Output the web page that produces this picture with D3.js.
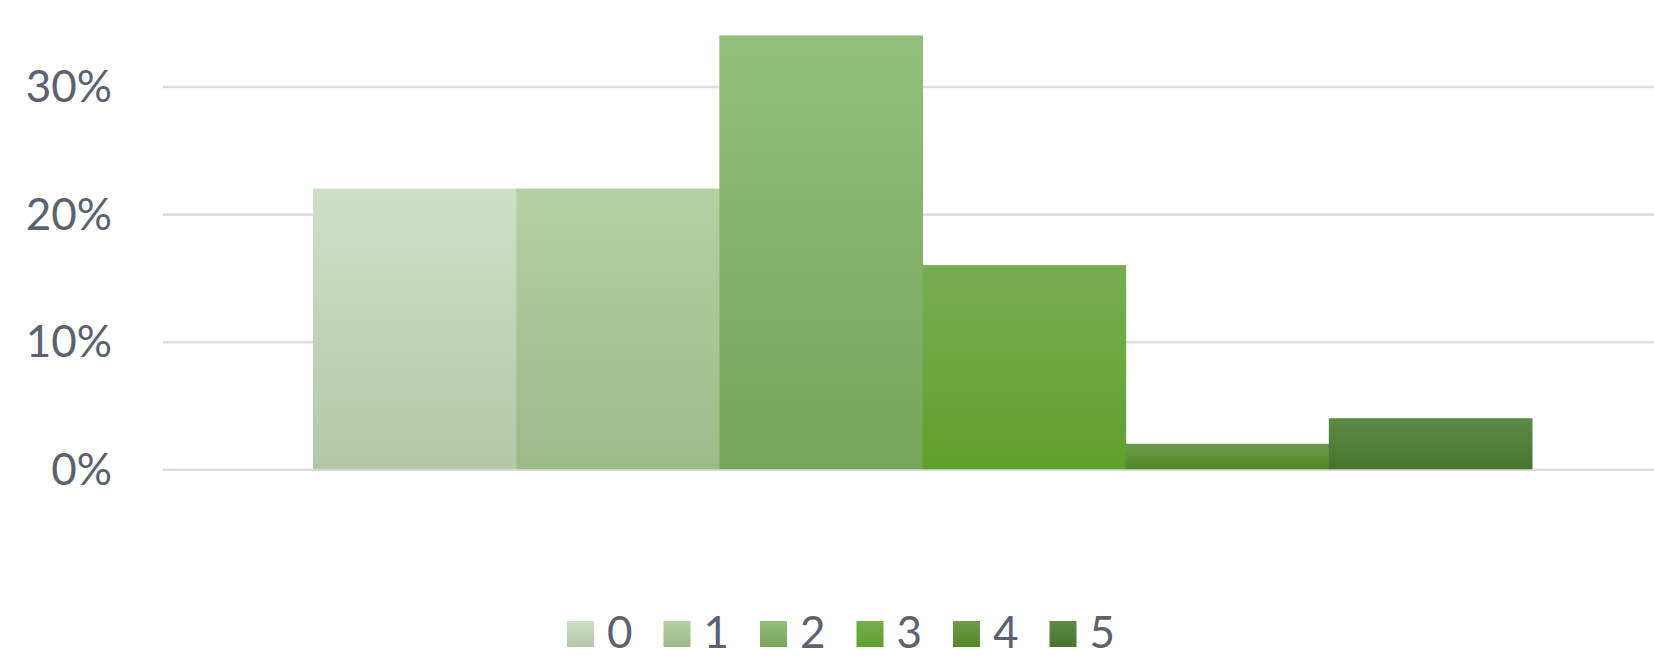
<!DOCTYPE html>
<html>
<head>
<meta charset="utf-8">
<script src="https://cdn.jsdelivr.net/npm/d3@7/dist/d3.min.js"></script>
<style>
  html, body { margin: 0; padding: 0; background: #ffffff; }
  svg { display: block; }
  text { font-family: Lato, "Open Sans", sans-serif; fill: #5a6272; }
</style>
</head>
<body>
<svg id="chart" width="1654" height="658"></svg>
<script>
// ---- data ----
const categories = ["all"];
const seriesNames = ["0", "1", "2", "3", "4", "5"];
const seriesValues = [0.22, 0.22, 0.34, 0.16, 0.02, 0.04];
const yTicks = [0, 0.1, 0.2, 0.3];
const colorsTop = ["#cedfc7", "#b4d0a5", "#93bf7b", "#77ad50", "#6e9a4e", "#5e8a46"];
const colorsBottom = ["#b2c7a8", "#9cbb87", "#76a559", "#5ea02c", "#4f8a24", "#48742e"];

const W = 1654, H = 658;
const svg = d3.select("#chart");
const margin = { left: 163, right: -28, top: 22.7, bottom: 188.7 };
const plotW = W - margin.left - margin.right;
const plotH = H - margin.top - margin.bottom;

const defs = svg.append("defs");
seriesNames.forEach((s, i) => {
  const g = defs.append("linearGradient").attr("id", "grad" + i)
    .attr("x1", 0).attr("y1", 0).attr("x2", 0).attr("y2", 1);
  g.append("stop").attr("offset", "0%").attr("stop-color", colorsTop[i]);
  g.append("stop").attr("offset", "100%").attr("stop-color", colorsBottom[i]);
});

const g = svg.append("g").attr("transform", `translate(${margin.left},${margin.top})`);

const y = d3.scaleLinear().domain([0, 0.35]).range([plotH, 0]);
const x0 = d3.scaleBand().domain(categories).range([0, plotW]).padding(0.1096);
const x1 = d3.scaleBand().domain(seriesNames).range([0, x0.bandwidth()]).padding(0);

// gridlines + labels
const yAxis = d3.axisLeft(y).tickValues(yTicks).tickFormat(d3.format(".0%"))
  .tickSize(-(W - margin.left)).tickPadding(51);
const ya = g.append("g").call(yAxis);
ya.select(".domain").remove();
ya.selectAll(".tick line").attr("stroke", "#dcdee4").attr("stroke-width", 2.6);
ya.selectAll(".tick text").attr("font-size", 44).attr("fill", "#5a6272")
  .attr("font-family", "Lato, 'Open Sans', sans-serif").attr("dy", "0.34em");

// bars
const cat = g.append("g").attr("transform", `translate(${x0(categories[0])},0)`);
cat.selectAll("rect").data(seriesValues).join("rect")
  .attr("x", (d, i) => x1(seriesNames[i]))
  .attr("width", x1.bandwidth() + 0.5)
  .attr("y", d => y(d))
  .attr("height", d => y(0) - y(d))
  .attr("fill", (d, i) => `url(#grad${i})`);

// legend
const legend = svg.append("g").attr("transform", "translate(567,621)");
const items = legend.selectAll("g").data(seriesNames).join("g")
  .attr("transform", (d, i) => `translate(${i * 96.5},0)`);
items.append("rect").attr("width", 27).attr("height", 26)
  .attr("fill", (d, i) => `url(#grad${i})`);
items.append("text").attr("x", 40).attr("y", 27)
  .attr("font-size", 44).text(d => d);
</script>
</body>
</html>
